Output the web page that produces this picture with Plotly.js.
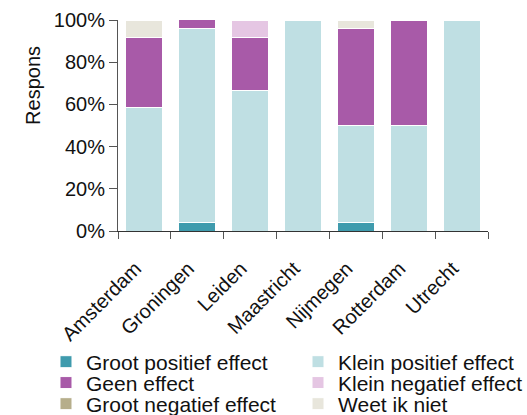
<!DOCTYPE html>
<html>
<head>
<meta charset="utf-8">
<script src="https://cdn.plot.ly/plotly-3.0.1.min.js"></script>
<style>html,body{margin:0;padding:0;background:#fff;}#chart{width:527px;height:415px;}</style>
</head>
<body>
<div id="chart"></div>
<script>
var categories = ["Amsterdam", "Groningen", "Leiden", "Maastricht", "Nijmegen", "Rotterdam", "Utrecht"];
var grootPositief = [0, 4.17, 0, 0, 4.17, 0, 0];
var kleinPositief = [58.33, 91.67, 66.67, 100, 45.83, 50, 100];
var geenEffect = [33.33, 4.17, 25, 0, 45.83, 50, 0];
var kleinNegatief = [0, 0, 8.33, 0, 0, 0, 0];
var grootNegatief = [0, 0, 0, 0, 0, 0, 0];
var weetIkNiet = [8.33, 0, 0, 0, 4.17, 0, 0];

var seriesNames = ["Groot positief effect", "Klein positief effect", "Geen effect", "Klein negatief effect", "Groot negatief effect", "Weet ik niet"];
var seriesValues = [grootPositief, kleinPositief, geenEffect, kleinNegatief, grootNegatief, weetIkNiet];
var seriesColors = ["#3f9bad", "#bfdfe3", "#a85aa8", "#e5c6e3", "#b6ae8b", "#e8e6dc"];

var FONT = "Liberation Sans, Arial, sans-serif";
var legendKeys = ["legend", "legend2", "legend3", "legend4", "legend5", "legend6"];
var traces = seriesNames.map(function (n, i) {
  return {
    type: "bar",
    name: n,
    x: categories,
    y: seriesValues[i],
    marker: { color: seriesColors[i], line: { color: "#ffffff", width: 1 } },
    legend: legendKeys[i],
    hoverinfo: "x+y+name"
  };
});

// legend slot positions (paper fractions): two columns, three rows
var colX = [-0.1946, 0.4865];
var rowY = [-0.621, -0.720, -0.820];

function legendAt(x, y) {
  return {
    orientation: "v",
    xref: "paper", yref: "paper",
    x: x, xanchor: "left",
    y: y, yanchor: "middle",
    font: { family: FONT, size: 21, color: "#111" },
    bgcolor: "rgba(0,0,0,0)",
    borderwidth: 0,
    itemclick: false, itemdoubleclick: false
  };
}

var layout = {
  width: 527, height: 415,
  margin: { l: 118, r: 39, t: 20, b: 184, autoexpand: false },
  paper_bgcolor: "#ffffff", plot_bgcolor: "#ffffff",
  barmode: "stack",
  bargap: 0.3,
  font: { family: FONT, size: 20, color: "#111" },
  xaxis: {
    type: "category",
    tickangle: -45,
    tickson: "boundaries",
    ticks: "outside", ticklen: 7, tickcolor: "#555", tickwidth: 1,
    ticklabelstandoff: 17, ticklabelshift: -9,
    showline: true, linecolor: "#333", linewidth: 1,
    showgrid: false, zeroline: false,
    tickfont: { family: FONT, size: 20, color: "#111" }
  },
  yaxis: {
    range: [0, 100],
    dtick: 20, ticksuffix: "%",
    ticks: "outside", ticklen: 8, tickcolor: "#555", tickwidth: 1,
    showline: true, linecolor: "#555", linewidth: 1,
    showgrid: false, zeroline: false,
    tickfont: { family: FONT, size: 20, color: "#111" }
  },
  annotations: [{
    text: "Respons", xref: "paper", yref: "paper",
    x: -0.23, y: 0.692, xanchor: "center", yanchor: "middle",
    textangle: -90, showarrow: false,
    font: { family: FONT, size: 20, color: "#111" }
  }],
  showlegend: true
};
for (var i = 0; i < 6; i++) {
  layout[legendKeys[i]] = legendAt(colX[i % 2], rowY[Math.floor(i / 2)]);
}

Plotly.newPlot("chart", traces, layout, { displayModeBar: false });
</script>
</body>
</html>
